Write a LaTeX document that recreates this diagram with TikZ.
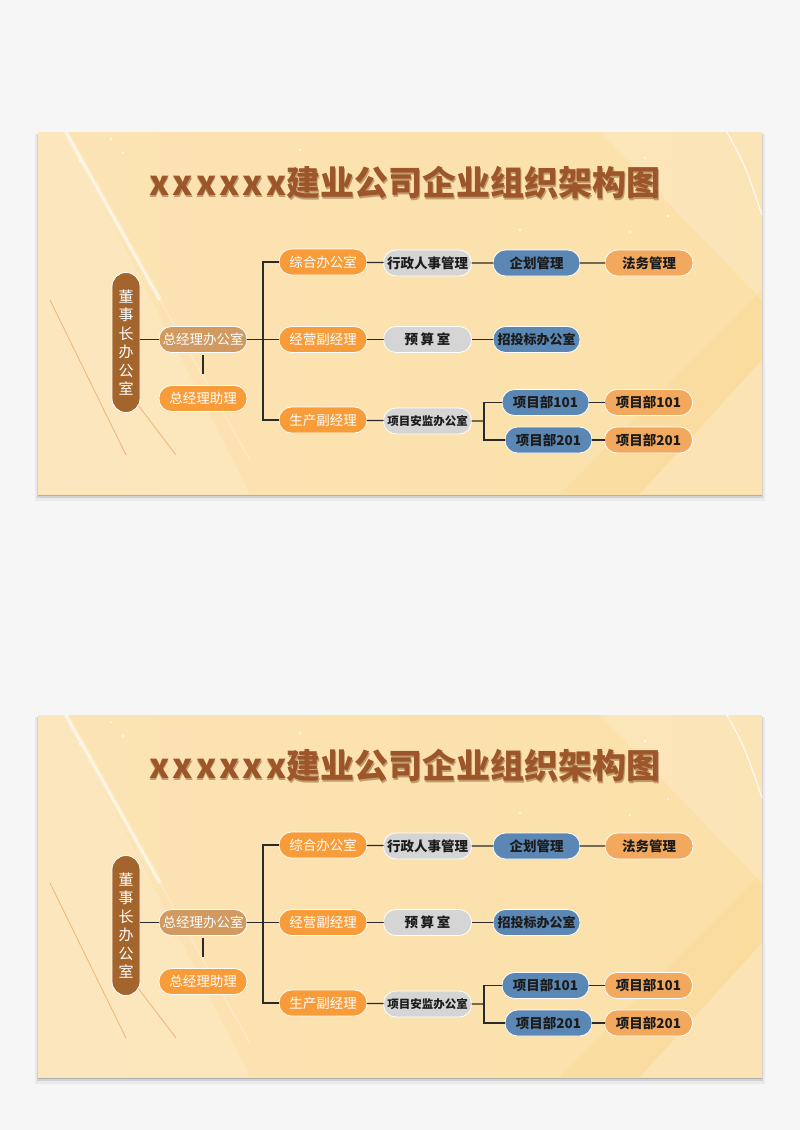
\documentclass[tikz,border=0pt]{standalone}
\usepackage{fontspec}
\newfontfamily\cjk{Noto Sans CJK SC}
\definecolor{page}{HTML}{F6F6F6}
\definecolor{P1}{HTML}{FCE3B4}
\definecolor{P2}{HTML}{FDEED0}
\definecolor{P3}{HTML}{FBE0A8}
\definecolor{Y}{HTML}{FAD58C}
\definecolor{streak}{HTML}{E3A162}
\definecolor{title}{HTML}{9C5629}
\definecolor{titleshade}{HTML}{6A3514}
\definecolor{chair}{HTML}{A3652B}
\definecolor{tan}{HTML}{D09A60}
\definecolor{lead}{HTML}{F89C3A}
\definecolor{grey}{HTML}{D5D5D5}
\definecolor{blue}{HTML}{5B87B5}
\definecolor{pale}{HTML}{F2A95E}
\definecolor{ink}{HTML}{1C1C1C}
\definecolor{link}{HTML}{2A2A2A}
\usetikzlibrary{positioning}
\tikzstyle{base}=[x=1pt, y=-1pt, inner sep=0pt, outer sep=0pt]
\tikzstyle{box}=[draw=white, line width=0.8pt, rounded corners=12.5pt, minimum width=88pt, minimum height=26pt, font=\cjk\fontsize{13.5}{13.5}\selectfont]
\tikzstyle{chairbox}=[box, fill=chair, text=white, minimum width=28pt, minimum height=140pt, rounded corners=14pt, align=center, font=\cjk\fontsize{15}{18.4}\selectfont]
\tikzstyle{tanbox}=[box, fill=tan, text=white]
\tikzstyle{leadbox}=[box, fill=lead, text=white]
\tikzstyle{greybox}=[box, fill=grey, text=ink, font=\cjk\bfseries\fontsize{13.5}{13.5}\selectfont]
\tikzstyle{bluebox}=[box, fill=blue, text=ink, minimum width=87pt, font=\cjk\bfseries\fontsize{13.5}{13.5}\selectfont]
\tikzstyle{palebox}=[box, fill=pale, text=ink, font=\cjk\bfseries\fontsize{13.5}{13.5}\selectfont]
\tikzstyle{wire}=[draw=link, line width=1.3pt]
\tikzstyle{titletext}=[font=\cjk\bfseries\fontsize{34}{34}\selectfont]

\begin{document}
\begin{tikzpicture}[base]
    \fill [page] (0,0) rectangle (800,1130);
    \useasboundingbox (0,0) rectangle (800,1130);
    \foreach \p/\s in {a/0,b/583} {
    \begin{scope}[shift={(0,\s)}]
        \fill [black, opacity=.05] (35,134) rectangle (765,501);
        \fill [black, opacity=.10] (37,134) rectangle (763,498);
        \fill [black, opacity=.15] (38,134) rectangle (762,496);
        \shade [left color=P1, middle color=P2, right color=P3] (38,132) rectangle (762,494);
        \fill [white, opacity=.14] (38,132) -- (66,132) -- (250,494) -- (38,494) -- cycle;
        \fill [Y, opacity=.3] (560,494) -- (762,290) -- (762,494) -- cycle;
        \fill [white, opacity=.22] (640,494) -- (762,360) -- (762,494) -- cycle;
        \fill [white, opacity=.18] (600,132) -- (762,132) -- (762,300) -- cycle;
        \draw [white, opacity=.35, line width=5pt] (66,132) -- (160,300);
        \draw [white, opacity=.8, line width=1.2pt] (66,132) -- (160,300);
        \draw [white, opacity=.3, line width=1pt] (160,300) -- (250,460);
        \draw [white, opacity=.8, line width=1.2pt] (727,132) .. controls (745,165) .. (762,215);
        \draw [streak, opacity=.7, line width=.8pt] (50,300) -- (126,455);
        \draw [streak, opacity=.7, line width=.8pt] (138,405) -- (176,455);
        \foreach \x/\y in {111/139,123/153,80/161,645/158,658/188,668/216,630/232,300/150,520/230} {
            \fill [white, opacity=.7] (\x,\y) circle (1.3);
        }
        \node [titletext, text=titleshade, opacity=.4] at (405.6,184.2) {{\addfontfeature{LetterSpace=9}xxxxxx}建业公司企业组织架构图};
        \node [titletext, text=title] (title\p) at (405,183) {{\addfontfeature{LetterSpace=9}xxxxxx}建业公司企业组织架构图};
        \node [chairbox] (chair\p) at (126,342.5) {董\\事\\长\\办\\公\\室};
        \node [tanbox] (gmo\p) at (203,339.5) {总经理办公室};
        \node [leadbox] (gma\p) at (203,398.5) {总经理助理};
        \node [leadbox] (zh\p) at (323,262) {综合办公室};
        \node [leadbox] (jy\p) at (323,339.5) {经营副经理};
        \node [leadbox] (sc\p) at (323,420) {生产副经理};
        \node [greybox] (xz\p) at (427.5,263) {行政人事管理};
        \node [greybox] (ys\p) at (427.5,339.5) {\addfontfeature{LetterSpace=20}预算室};
        \node [greybox, font=\cjk\bfseries\fontsize{11.5}{11.5}\selectfont] (aj\p) at (427.5,421) {项目安监办公室};
        \node [bluebox] (qh\p) at (536.5,263) {企划管理};
        \node [bluebox, font=\cjk\bfseries\fontsize{13}{13}\selectfont] (zt\p) at (536.5,339.5) {招投标办公室};
        \node [palebox] (fw\p) at (649,263) {法务管理};
        \node [bluebox] (pa\p) at (545.5,402.5) {项目部101};
        \node [bluebox] (pb\p) at (548.5,440) {项目部201};
        \node [palebox] (qa\p) at (648.5,402.5) {项目部101};
        \node [palebox] (qb\p) at (648.5,440) {项目部201};
        \coordinate (trunk\p) at (263,339.5);
        \coordinate (fork\p) at (484,421);
        \draw [wire] (gmo\p.west -| chair\p.east) -- (gmo\p.west);
        \draw [wire, shorten <=2pt, shorten >=12pt] (gmo\p) -- (gma\p);
        \draw [wire] (gmo\p.east) -- (jy\p.west);
        \draw [wire] (zh\p.west) -| (trunk\p) |- (sc\p.west);
        \draw [wire] (zh\p) -- (xz\p) -- (qh\p) -- (fw\p);
        \draw [wire] (jy\p) -- (ys\p) -- (zt\p);
        \draw [wire] (sc\p) -- (aj\p) -- (fork\p);
        \draw [wire] (pa\p.west) -| (fork\p) |- (pb\p.west);
        \draw [wire] (pa\p) -- (qa\p);
        \draw [wire] (pb\p) -- (qb\p);
    \end{scope}
    }
\end{tikzpicture}
\end{document}
